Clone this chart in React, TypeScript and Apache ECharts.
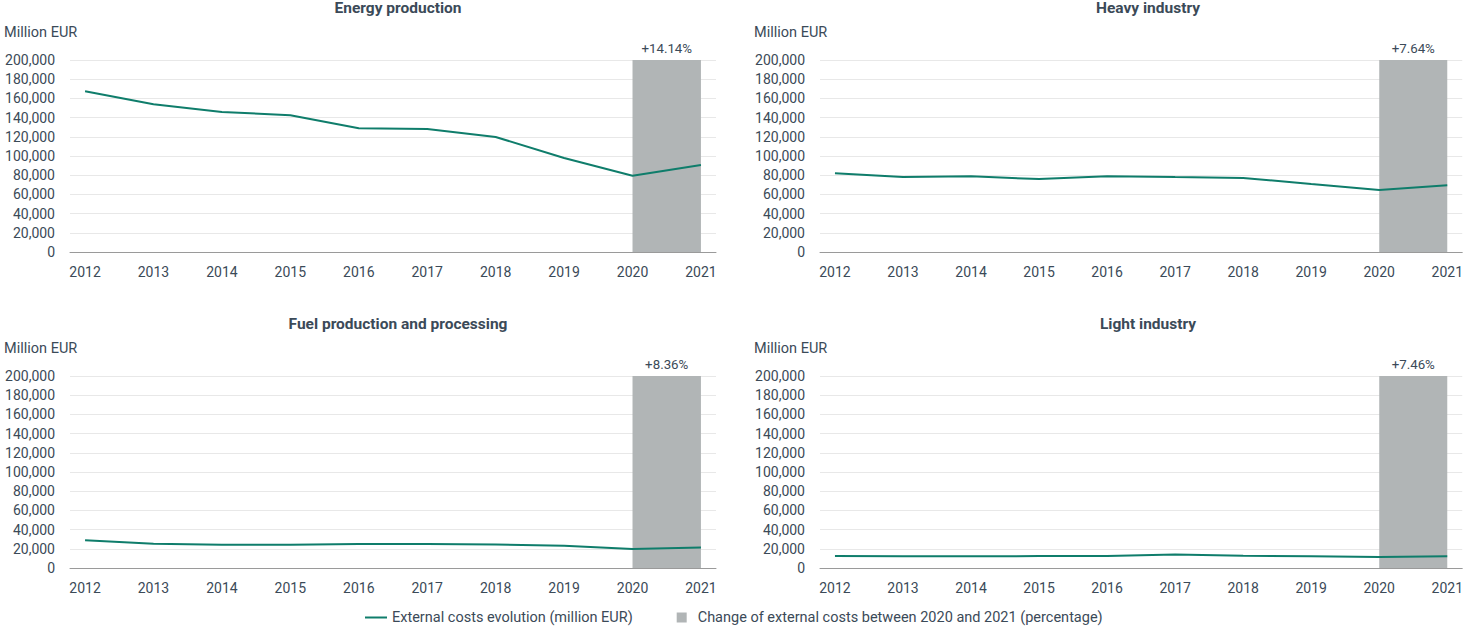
import React, { useEffect, useRef } from "react";
import * as echarts from "echarts";

const years = [2012, 2013, 2014, 2015, 2016, 2017, 2018, 2019, 2020, 2021];
const titles = ["Energy production", "Heavy industry", "Fuel production and processing", "Light industry"];
const energy = [167500, 154000, 145800, 142500, 129000, 128200, 119800, 98000, 79500, 90740];
const heavy = [82000, 78000, 78800, 76000, 79000, 78000, 77200, 70800, 64600, 69500];
const fuel = [29000, 25200, 24300, 24300, 25000, 25000, 24600, 23200, 19800, 21460];
const light = [12600, 12300, 12300, 12400, 12500, 14000, 12800, 12300, 11400, 12250];
const changes = ["+14.14%", "+7.64%", "+8.36%", "+7.46%"];
const yTicks = [0, 20000, 40000, 60000, 80000, 100000, 120000, 140000, 160000, 180000, 200000];
const lineName = "External costs evolution (million EUR)";
const areaName = "Change of external costs between 2020 and 2021 (percentage)";

const TEXT = "#3b4a58";
const LINE = "#0f7d6b";
const GREY = "#b1b5b6";
const FONT = "Roboto";

export default function App() {
  const ref = useRef<HTMLDivElement>(null);
  useEffect(() => {
    document.body.style.margin = "0";
    const chart = echarts.init(ref.current!, null, { renderer: "svg" });
    const seriesData = [energy, heavy, fuel, light];
    const grids = [
      { left: 70, top: 60, width: 646, height: 192 },
      { left: 820, top: 60, width: 646, height: 192 },
      { left: 70, top: 376, width: 646, height: 192 },
      { left: 820, top: 376, width: 646, height: 192 },
    ];
    const xAxes = grids.map((_, i) => ({
      type: "value",
      gridIndex: i,
      min: 2011.78,
      max: 2021.22,
      splitLine: { show: false },
      axisTick: { show: false },
      axisLine: { show: true, lineStyle: { color: "#9a9a9a", width: 1 } },
      axisLabel: {
        customValues: years,
        color: TEXT,
        fontSize: 14,
        fontFamily: FONT,
        margin: 13,
        formatter: (v: number) => String(v),
      },
    }));
    const yAxes = grids.map((_, i) => ({
      type: "value",
      gridIndex: i,
      min: yTicks[0],
      max: yTicks[yTicks.length - 1],
      interval: yTicks[1] - yTicks[0],
      axisLine: { show: false },
      axisTick: { show: false },
      splitLine: { lineStyle: { color: "#e8e8e8" } },
      axisLabel: {
        color: TEXT,
        fontSize: 14,
        fontFamily: FONT,
        margin: 15,
        formatter: (v: number) => v.toLocaleString("en-US"),
      },
    }));
    const series: any[] = seriesData.map((d, i) => ({
      type: "line",
      name: lineName,
      xAxisIndex: i,
      yAxisIndex: i,
      data: d.map((v, j) => [years[j], v]),
      showSymbol: false,
      symbol: "none",
      lineStyle: { color: LINE, width: 2 },
      itemStyle: { color: LINE },
      z: 5,
      markArea: {
        silent: true,
        itemStyle: { color: GREY },
        label: {
          show: true,
          position: "top",
          formatter: changes[i],
          color: TEXT,
          fontSize: 13.3,
          fontFamily: FONT,
          distance: 5,
        },
        data: [[{ xAxis: years[8], yAxis: yTicks[0] }, { xAxis: years[9], yAxis: yTicks[yTicks.length - 1] }]],
      },
    }));
    series.push({
      type: "bar",
      name: areaName,
      xAxisIndex: 0,
      yAxisIndex: 0,
      data: [],
      itemStyle: { color: GREY },
    });
    const titleOpts = grids.map((g, i) => ({
      text: titles[i],
      left: g.left + g.width / 2,
      top: g.top - 65,
      textAlign: "center",
      textStyle: { color: TEXT, fontSize: 15.5, fontWeight: "bold", fontFamily: FONT },
    }));
    const graphics = grids.map((g) => ({
      type: "text",
      left: g.left - 66,
      top: g.top - 35,
      style: { text: "Million EUR", fill: TEXT, fontSize: 14.5, fontFamily: FONT },
    }));
    chart.setOption({
      animation: false,
      title: titleOpts,
      grid: grids,
      xAxis: xAxes,
      yAxis: yAxes,
      series,
      graphic: graphics,
      legend: {
        top: 605,
        left: 360,
        itemGap: 44,
        itemWidth: 22,
        itemHeight: 10,
        textStyle: { color: TEXT, fontSize: 14.5, fontFamily: FONT },
        data: [
          { name: lineName, icon: "path://M0,4H22V6H0Z" },
          { name: areaName, icon: "path://M0,0H10V10H0Z" },
        ],
      },
    });
    return () => chart.dispose();
  }, []);
  return <div ref={ref} style={{ width: 1466, height: 627 }} />;
}
